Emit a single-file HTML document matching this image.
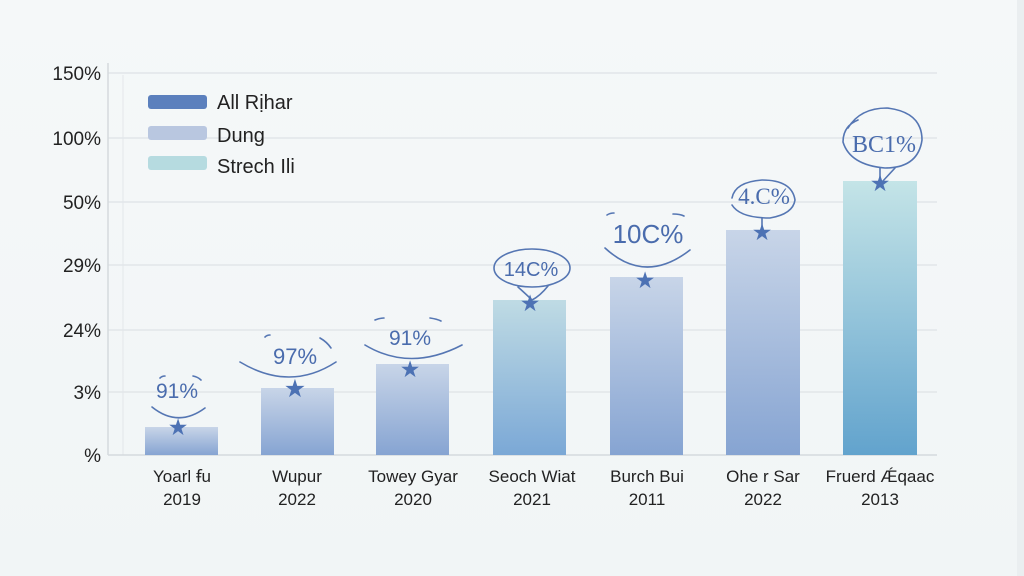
<!DOCTYPE html>
<html><head><meta charset="utf-8"><style>
html,body{margin:0;padding:0;background:#f3f6f7;}
svg{display:block;}
</style></head><body>
<svg width="1024" height="576" viewBox="0 0 1024 576" xmlns="http://www.w3.org/2000/svg" font-family="Liberation Sans, sans-serif">
<defs>
<linearGradient id="bg" x1="0" y1="0" x2="0" y2="1"><stop offset="0" stop-color="#f5f8f9"/><stop offset="1" stop-color="#f1f5f6"/></linearGradient>
<linearGradient id="gb" x1="0" y1="0" x2="0" y2="1"><stop offset="0" stop-color="#c8d5e8"/><stop offset="1" stop-color="#86a4d2"/></linearGradient>
<linearGradient id="gt" x1="0" y1="0" x2="0" y2="1"><stop offset="0" stop-color="#bfdbe4"/><stop offset="1" stop-color="#7ba8d6"/></linearGradient>
<linearGradient id="g7" x1="0" y1="0" x2="0" y2="1"><stop offset="0" stop-color="#c4e4e7"/><stop offset="1" stop-color="#62a3cd"/></linearGradient>
</defs>
<rect width="1024" height="576" fill="url(#bg)"/>
<rect x="1017" y="0" width="7" height="576" fill="#eaeef0"/>
<g stroke="#e1e6e9" stroke-width="1.5">
<line x1="108" y1="73" x2="937" y2="73"/>
<line x1="108" y1="138" x2="937" y2="138"/>
<line x1="108" y1="202" x2="937" y2="202"/>
<line x1="108" y1="265" x2="937" y2="265"/>
<line x1="108" y1="330" x2="937" y2="330"/>
<line x1="108" y1="392" x2="937" y2="392"/>
</g>
<line x1="108" y1="63" x2="108" y2="455" stroke="#d5dadd" stroke-width="1.5"/>
<line x1="123" y1="75" x2="123" y2="455" stroke="#e3e7ea" stroke-width="1"/>
<line x1="108" y1="455" x2="937" y2="455" stroke="#d5dadd" stroke-width="1.5"/>
<g font-size="19" fill="#222" text-anchor="end">
<text x="101" y="80">150%</text>
<text x="101" y="145">100%</text>
<text x="101" y="209">50%</text>
<text x="101" y="272">29%</text>
<text x="101" y="337">24%</text>
<text x="101" y="399">3%</text>
<text x="101" y="462">%</text>
</g>
<rect x="148" y="95" width="59" height="14" rx="3" fill="#5b80bd"/>
<rect x="148" y="126" width="59" height="14" rx="3" fill="#b9c7e0"/>
<rect x="148" y="156" width="59" height="14" rx="3" fill="#b6dbe0"/>
<g font-size="20" fill="#222">
<text x="217" y="109">All Rịhar</text>
<text x="217" y="142">Dung</text>
<text x="217" y="173">Strech Ili</text>
</g>
<rect x="145" y="427" width="73" height="28" fill="url(#gb)"/>
<rect x="261" y="388" width="73" height="67" fill="url(#gb)"/>
<rect x="376" y="364" width="73" height="91" fill="url(#gb)"/>
<rect x="493" y="300" width="73" height="155" fill="url(#gt)"/>
<rect x="610" y="277" width="73" height="178" fill="url(#gb)"/>
<rect x="726" y="230" width="74" height="225" fill="url(#gb)"/>
<rect x="843" y="181" width="74" height="274" fill="url(#g7)"/>
<g font-size="17" fill="#222" text-anchor="middle">
<text x="182" y="482">Yoarl ꞙu</text><text x="182" y="505">2019</text>
<text x="297" y="482">Wupur</text><text x="297" y="505">2022</text>
<text x="413" y="482">Towey Gyar</text><text x="413" y="505">2020</text>
<text x="532" y="482">Seoch Wiat</text><text x="532" y="505">2021</text>
<text x="647" y="482">Burch Bui</text><text x="647" y="505">2011</text>
<text x="763" y="482">Ohe r Sar</text><text x="763" y="505">2022</text>
<text x="880" y="482">Fruerd Ǽqaac</text><text x="880" y="505">2013</text>
</g>
<g fill="none" stroke="#5576b3" stroke-width="1.6" stroke-linecap="round">
<path d="M152 407 Q178 428 205 408"/><path d="M160 378 Q162 376 165 376"/><path d="M193 376 Q198 377 201 380"/>
<path d="M240 362 Q290 392 336 362"/><path d="M265 337 Q267 335 270 335"/><path d="M320 338 Q327 342 331 348"/>
<path d="M365 345 Q410 372 462 345"/><path d="M375 320 Q380 318 384 318"/><path d="M430 318 Q437 319 441 321"/>
<ellipse cx="532" cy="268" rx="38" ry="19"/><path d="M518 287 Q528 296 532 300"/><path d="M548 286 Q540 296 532 300"/>
<path d="M605 248 Q645 285 690 250"/><path d="M607 215 Q610 213 614 213"/><path d="M673 214 Q680 214 684 216"/>
<path d="M732 198 Q735 182 762 180 Q792 180 795 200 Q793 214 770 218 Q740 218 732 205"/><path d="M762 218 L762 230"/>
<path d="M848 128 Q860 108 887 108 Q922 112 922 140 Q918 168 885 168 Q850 165 843 142 Q843 126 858 120"/><path d="M880 168 L880 182"/><path d="M895 168 L882 182"/>
</g>
<g fill="#4d72b4">
<text x="178" y="435" font-size="23" text-anchor="middle">★</text>
<text x="295" y="397" font-size="25" text-anchor="middle">★</text>
<text x="410" y="377" font-size="23" text-anchor="middle">★</text>
<text x="530" y="311" font-size="23" text-anchor="middle">★</text>
<text x="645" y="288" font-size="23" text-anchor="middle">★</text>
<text x="762" y="240" font-size="23" text-anchor="middle">★</text>
<text x="880" y="191" font-size="23" text-anchor="middle">★</text>
</g>
<g fill="#4a6cad" text-anchor="middle">
<text x="177" y="398" font-size="21">91%</text>
<text x="295" y="364" font-size="22">97%</text>
<text x="410" y="345" font-size="21">91%</text>
<text x="531" y="276" font-size="20">14C%</text>
<text x="648" y="243" font-size="26">10C%</text>
<text x="764" y="204" font-size="23" font-family="Liberation Serif, serif">4.C%</text>
<text x="884" y="152" font-size="24" font-family="Liberation Serif, serif">BC1%</text>
</g>
</svg>
</body></html>
